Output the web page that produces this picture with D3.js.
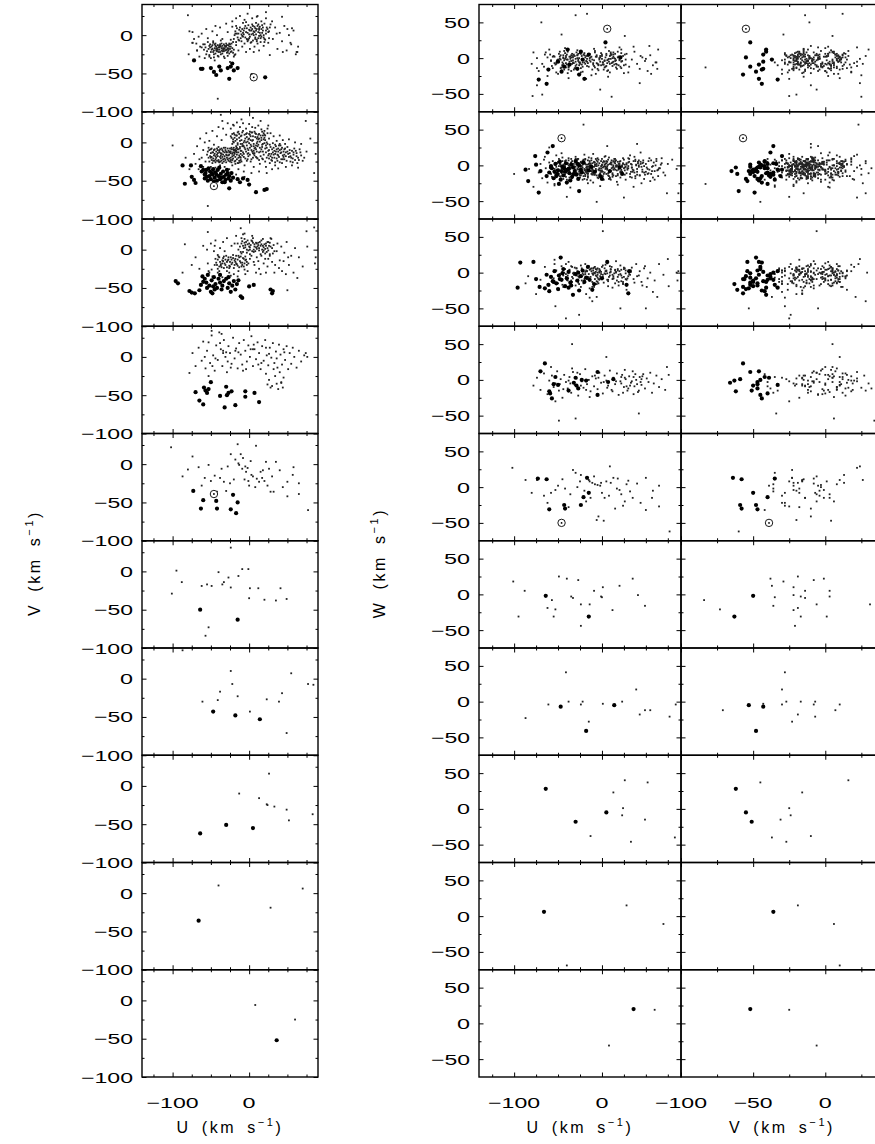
<!DOCTYPE html>
<html>
<head>
<meta charset="utf-8">
<script src="https://cdn.jsdelivr.net/npm/d3@7"></script>
<style>
body { margin: 0; background: #fff; }
svg { display: block; }
text { font-family: "Liberation Sans", Arial, Helvetica, sans-serif; fill: #000; }
</style>
</head>
<body>
<svg id="chart" width="875" height="1144"></svg>
<script>
// every star is [U, V, W] in km/s, one list per row of panels
const row1Small = [
 [-52,-14,-6],[-48,-18,2],[-45,-12,-10],[-43,-20,-3],[-40,-16,5],[-38,-22,-12],[-36,-11,-1],[-34,-19,-8],[-31,-15,3],[-29,-23,-15],
 [-27,-13,-4],[-25,-18,7],[-23,-21,-9],[-50,-22,-2],[-47,-10,-14],[-44,-24,0],[-41,-13,-7],[-39,-19,9],[-37,-25,-5],[-35,-14,-18],
 [-33,-21,1],[-30,-11,-11],[-28,-17,4],[-26,-24,-6],[-24,-15,-20],[-53,-18,-9],[-49,-15,6],[-46,-20,-13],[-42,-17,-1],[-38,-14,-16],
 [-36,-20,2],[-32,-17,-7],[-29,-13,8],[-27,-20,-2],[-22,-17,-12],[-55,-21,3],[-51,-12,-4],[-46,-25,-17],[-43,-15,10],[-40,-22,-9],
 [-35,-24,4],[-33,-12,-3],[-31,-20,-14],[-28,-22,0],[-25,-12,-8],[-21,-23,5],[-57,-16,-11],[-49,-19,-5],[-44,-11,1],[-39,-16,-21],
 [-34,-17,6],[-30,-19,-1],[-26,-15,-10],[-23,-11,3],[-20,-19,-6],
 [-18,5,-4],[-15,-3,-12],[-12,10,2],[-10,-8,-7],[-8,3,8],[-5,12,-15],[-3,-5,-2],[0,7,5],[2,-10,-9],[4,14,1],
 [6,0,-18],[8,9,-5],[10,-6,4],[12,4,-11],[14,11,0],[16,-2,-8],[18,6,9],[20,-9,-3],[22,2,-14],[24,8,3],
 [-17,-9,-1],[-14,2,6],[-11,-4,-16],[-9,8,-3],[-6,-11,2],[-4,4,-10],[-1,13,7],[1,-2,-6],[3,6,-13],[5,-7,4],
 [7,11,-2],[9,1,-20],[11,-11,-7],[13,7,5],[15,-4,-1],[17,13,-9],[19,0,2],[21,-6,-12],[23,10,-4],[-19,0,-8],
 [-16,9,3],[-13,-7,-5],[-7,6,-22],[-2,-8,1],[3,1,-3],[8,-3,10],[12,14,-6],[17,3,-15],[-20,-5,4],[-10,1,-9],
 [0,-4,-1],[6,5,-7],[10,8,6],[15,-9,-4],[25,4,-10],[-3,9,0],[5,12,-11],[13,-1,2],[20,15,-2],[-8,-2,-13],
 [-72,-5,-18],[-68,-20,-8],[-65,-28,5],[-62,2,-25],[-60,-12,12],[-58,-30,-3],[-56,8,-14],[-54,-4,2],[-50,-30,-22],[-48,5,9],
 [-45,-33,-10],[-42,0,14],[-40,-28,-2],[-38,10,-28],[-35,-5,1],[-32,-30,-16],[-28,4,11],[-25,-35,-6],[-22,18,-19],[-20,-28,7],
 [-17,22,-11],[-14,-20,0],[-12,25,-24],[-9,-15,13],[-6,20,-7],[-4,-22,-17],[-2,28,3],[1,-18,-9],[4,22,15],[7,-15,-26],
 [10,24,-1],[13,-20,8],[16,18,-13],[19,-14,2],[22,22,-5],[25,-10,-21],[28,14,6],[31,-5,-12],[34,10,-2],[37,-18,9],
 [40,3,-8],[43,-8,-15],[46,12,1],[49,-20,-4],[52,0,-18],[55,-12,4],[58,6,-10],[61,-25,-6],[64,-15,12],[-74,-10,0],
 [-66,-2,-12],[-52,-26,-20],[-44,12,4],[-30,15,-14],[-18,-25,-29],[-8,16,10],[6,-22,-3],[20,-5,15],[30,18,-20],[44,-22,3],
 [36,2,16],[27,-26,-9],[50,8,-1],[-64,-15,8],
 [-30,-14,60],[-17,12,62],[-69,-11,50],[-46,-29,33],[26,5,31],[54,-10,17],[62,-22,-6],[43,24,-35],[11,25,-54],[-2,-6,-44],
 [-79,-25,-53],[-68,-20,-51],[-74,-10,-38],[-78,5,8],[-41,-83,-13],[-80,26,-8],[-74,4,-14],[56,9,-22],[63,-22,-15],[22,30,12]
]
const row1Core = [
 [-51,-16,-3],[-47,-22,4],[-44,-14,-8],[-41,-19,1],[-38,-12,-13],[-35,-21,-4],[-32,-14,5],[-29,-19,-9],[-26,-11,0],[-24,-22,-14],
 [-48,-13,-1],[-45,-17,-6],[-42,-21,7],[-39,-14,-2],[-36,-17,-10],[-33,-19,3],[-30,-15,-5],[-27,-18,6],[-43,-18,-16],[-37,-15,2],
 [-16,2,-7],[-13,7,1],[-9,-1,-11],[-6,9,4],[-2,3,-5],[2,10,-16],[5,2,6],[9,6,-8],[12,-4,0],[16,8,-3],
 [19,-3,-10],[22,6,7],[-11,5,-2],[-5,-3,-8],[0,1,3],[4,8,-12],[8,-5,-1],[11,12,5],[14,3,-9],[18,10,1],
 [-14,-6,-3],[-7,1,2],[1,6,-6],[7,4,-17],[13,9,-5],[-18,2,3],[-1,-6,-10],[10,-8,8],[3,-9,-4],[15,0,6],
 [-58,-12,-4],[-56,-25,2],[-54,-9,-7],[-59,-19,5],[-21,-9,-3],[-19,-26,1],[-33,-28,-6],[-41,-27,3],[-47,-8,-2],[-37,-7,-9],
 [-28,-27,4],[-17,-13,-5],[-62,-16,1],[-52,-28,-8],[-24,-6,6],[-22,11,-6],[27,10,-2],[26,-4,5],[-4,17,-9],[9,16,3]
]
const row1Big = [
 [-72,-33,-30],[-63,-44,-36],[-61,-44,-16],[-50,-43,-5],[-46,-48,-19],[-43,-52,-12],[-39,-41,12],[-37,-46,-9],
 [-26,-57,-23],[-28,-43,-15],[-24,-41,9],[-20,-46,-29],[-15,-43,5],[-22,-37,-2],[21,-55,1],[4,-52,22]
]
const row1Sun = [[6,-55,41]]

const row2Small = [
 [-54,-12,-5],[-51,-18,3],[-49,-8,-12],[-47,-24,-1],[-45,-15,6],[-43,-20,-9],[-41,-10,-16],[-39,-26,2],[-37,-14,-6],[-35,-19,9],
 [-33,-7,-3],[-31,-23,-11],[-29,-13,4],[-27,-17,-18],[-25,-25,0],[-23,-9,-7],[-21,-21,5],[-19,-15,-13],[-17,-11,-2],[-15,-27,-8],
 [-53,-20,1],[-50,-14,-14],[-48,-27,7],[-46,-10,-4],[-44,-22,-19],[-42,-16,3],[-40,-6,-10],[-38,-19,10],[-36,-24,-5],[-34,-12,-15],
 [-32,-18,2],[-30,-26,-7],[-28,-8,8],[-26,-21,-12],[-24,-14,-1],[-22,-18,-20],[-20,-7,4],[-18,-24,-9],[-16,-16,1],[-14,-20,-4],
 [-55,-16,-8],[-52,-25,-2],[-49,-19,9],[-46,-17,-11],[-43,-12,0],[-40,-23,-6],[-38,-9,-21],[-35,-27,4],[-32,-13,-9],[-29,-20,6],
 [-27,-11,-3],[-24,-23,-14],[-21,-13,2],[-18,-19,-6],[-15,-9,11],[-13,-24,-1],[-11,-15,-10],[-50,-9,5],[-47,-21,-16],[-44,-26,-3],
 [-41,-18,7],[-39,-13,-8],[-36,-8,1],[-33,-25,-13],[-30,-16,-2],[-28,-22,9],[-25,-12,-17],[-23,-26,3],[-20,-17,-5],[-17,-8,-11],
 [-12,-19,0],[-10,-11,-7],[-53,-7,-13],[-48,-13,2],[-45,-24,-7],[-42,-8,6],[-37,-21,-2],[-34,-16,-18],[-31,-10,5],[-26,-16,-9],
 [-22,-23,1],[-19,-10,-15],[-16,-22,7],[-14,-13,-3],[-12,-26,-12],
 [-24,8,-6],[-22,-2,3],[-20,12,-11],[-18,-10,1],[-16,4,-17],[-14,14,6],[-12,-6,-3],[-10,9,-9],[-8,-13,4],[-6,2,-14],
 [-4,11,0],[-2,-8,-7],[0,5,9],[2,-3,-20],[4,13,-2],[6,-11,5],[8,7,-10],[10,-1,2],[12,10,-16],[14,-7,-4],
 [16,3,7],[18,-12,-12],[20,6,0],[22,-4,-6],[24,12,3],[-23,-7,-1],[-21,4,-15],[-19,-13,8],[-17,9,-5],[-15,-3,2],
 [-13,6,-21],[-11,-11,-2],[-9,13,5],[-7,0,-8],[-5,-9,10],[-3,7,-13],[-1,-14,-1],[1,10,4],[3,-5,-10],[5,3,-3],
 [7,14,8],[9,-9,-17],[11,1,1],[13,-13,-6],[15,9,3],[17,-3,-23],[19,12,-1],[21,-8,6],[23,0,-9],[25,-11,-4],
 [-24,-12,4],[-20,0,-7],[-16,-7,-12],[-12,2,7],[-8,-4,-1],[-4,-12,-18],[0,-1,1],[4,2,-5],[8,-7,11],[12,4,-11],
 [16,-9,-2],[20,-1,5],[-22,11,-3],[-18,2,-9],[-14,-9,0],[-10,3,-24],[-6,10,2],[-2,1,-11],[2,8,6],[6,-2,-4],
 [10,-12,-8],[14,1,4],[18,9,-14],[22,-13,-1],[-19,6,9],[-11,-2,-6],[-3,-4,3],[5,-14,-12],[13,5,0],[21,3,-17],
 [-7,-15,-5],[1,14,-9],[9,11,2],[-15,13,-2],[17,14,-7],[3,-10,12],[-9,-5,-13],[11,-5,7],[-1,4,-4],[7,-14,1],
 [26,-10,-3],[28,-18,-11],[30,-24,4],[32,-7,-16],[34,-15,1],[36,-21,-7],[38,-12,8],[40,-26,-13],[42,-9,-2],[44,-17,5],
 [46,-22,-9],[48,-13,-19],[50,-6,2],[52,-19,-5],[54,-25,10],[56,-11,-12],[58,-16,-1],[60,-23,-8],[62,-14,6],[64,-20,-15],
 [66,-9,-4],[68,-17,3],[70,-24,-10],[27,-27,-20],[31,-13,9],[35,-5,-6],[39,-19,0],[43,-27,-14],[47,-8,7],[51,-15,-3],
 [55,-20,-22],[59,-8,4],[63,-27,-7],[67,-13,1],[45,-12,-25],[37,-16,12],[53,-10,-11],[57,-26,-2],[33,-20,-9],[41,-4,3],
 [-72,-15,-10],[-70,-28,2],[-68,-5,-18],[-66,-35,8],[-64,5,-4],[-62,-20,-24],[-60,-32,4],[-58,0,-12],[-56,12,6],[-54,-35,-28],
 [-52,2,14],[-50,-32,-6],[-48,15,-15],[-46,-3,17],[-44,-33,-9],[-42,8,-1],[-40,20,-20],[-38,-30,7],[-36,3,-31],[-34,18,1],
 [-32,-32,-14],[-30,10,12],[-28,25,-5],[-26,-35,-18],[-24,18,5],[-22,-30,-10],[-20,22,15],[-18,-28,-3],[-16,26,-25],[-14,-35,3],
 [-12,20,-8],[-10,-25,16],[-8,25,-13],[-6,-30,-1],[-4,18,8],[-2,-22,-29],[0,24,0],[2,-25,-12],[4,20,13],[6,-32,-6],
 [8,19,-19],[10,-20,4],[12,22,-3],[14,-28,9],[16,17,-15],[18,-22,-27],[20,15,2],[22,-32,-8],[24,18,10],[26,5,-13],
 [28,12,1],[30,-35,-4],[32,8,14],[34,-30,-17],[36,2,-30],[38,-34,6],[40,9,-9],[44,3,18],[48,-32,-1],[52,4,-12],
 [56,-30,7],[60,0,-20],[64,-33,-6],[68,-2,10],[72,-20,-14],[75,-12,2],[-65,-22,12],[-57,-25,-16],[-47,-38,1],[-37,-40,-11],
 [-27,-40,9],[-17,-42,-20],[-7,-38,-7],[3,-40,5],[13,-38,-14],[23,-40,-2],[-35,28,3],[-10,30,-11],[15,28,6],[5,32,-4],
 [-100,-4,-12],[87,-15,-39],[85,-40,-5],[-54,-83,-26],[-37,36,-9],[-21,23,57],[6,-5,27],[-6,-45,-51],[74,28,-39],[-83,-20,-5],
 [80,5,8],[-40,-25,-44],[25,22,-45],[-60,-10,25],[40,-10,30],[-78,-35,-30]
]
const row2Core = [
 [-52,-10,-6],[-50,-20,4],[-47,-13,-9],[-44,-18,1],[-42,-24,-13],[-39,-11,3],[-37,-17,-17],[-34,-22,6],[-31,-7,-5],[-29,-17,-10],
 [-26,-13,3],[-24,-20,-4],[-21,-9,8],[-19,-25,-7],[-16,-13,-15],[-13,-17,2],[-11,-23,-5],[-49,-23,-1],[-45,-9,11],[-41,-14,-5],
 [-38,-25,0],[-35,-10,-12],[-32,-21,-1],[-30,-12,9],[-27,-24,-6],[-25,-8,-14],[-22,-15,6],[-18,-12,-8],[-14,-27,3],[-36,-15,-3],
 [-23,6,-8],[-19,10,2],[-15,-1,-6],[-11,8,-13],[-7,-5,1],[-3,12,-4],[1,-7,-15],[5,8,3],[9,-4,-7],[13,11,6],
 [17,-6,-1],[21,9,-10],[24,-2,2],[-21,1,7],[-17,-5,-2],[-13,11,-8],[-9,-2,4],[-5,5,-17],[-1,-10,6],[3,13,-1],
 [7,-8,-11],[11,7,-4],[15,-12,9],[19,4,-6],[23,-7,0],[-20,-10,-19],[-12,-8,10],[-4,0,-6],[4,-12,2],[12,-3,-13],
 [20,10,-3],[-6,-7,7],[2,3,-2],[10,5,-20],[18,-2,5],[-16,9,-11],[-8,15,1],[0,11,-7],[8,12,-15],[16,6,0],
 [29,-15,-6],[33,-11,2],[37,-24,-10],[41,-14,5],[45,-19,-2],[49,-24,-13],[53,-14,6],[57,-21,-8],[61,-11,0],[65,-23,-4],
 [30,-20,-1],[38,-8,-15],[46,-16,3],[54,-18,-6],[62,-18,9],[34,-26,-3],[42,-22,7],[50,-12,-9],[58,-13,-17],[26,-15,1],
 [27,-3,-2],[31,-1,5],[35,-12,-9],[39,-4,1],[43,-7,-14],[47,-2,4],[26,-21,-7],[30,-9,10],[34,-3,-3],[38,-17,-18],
 [42,-13,0],[46,-9,-6],[28,-6,3],[32,-16,-12],[36,-9,6],[40,-2,-5],[44,-22,2],[48,-18,-10],[25,-17,8],[29,-23,-4],
 [-9,-17,-2],[-5,-21,5],[-1,-18,-9],[3,-22,1],[7,-17,-14],[11,-21,4],[15,-18,-6],[19,-16,2],[23,-20,-11],[-7,-19,9],
 [1,-16,-3],[9,-19,-18],[17,-21,0],[-3,-24,-7],[5,-20,6],[13,-23,-2],[21,-25,-9],[-11,-20,3],[-2,-15,-12],[6,-15,-1]
]
const row2Big = [
 [-87,-30,-6],[-76,-30,13],[-84,-54,-22],[-72,-49,-38],[-70,-53,-8],[-63,-31,-15],[-56,-36,27],[-62,-38,18],[-75,-45,1],[-58,-42,-1],
 [-60,-36,-10],[-57,-40,-4],[-55,-45,-18],[-53,-34,2],[-51,-38,-12],[-50,-48,-7],[-48,-42,5],[-47,-35,-20],[-45,-46,-2],[-44,-39,-14],
 [-42,-50,-9],[-41,-36,3],[-40,-44,-24],[-38,-48,-5],[-37,-41,-11],[-35,-52,1],[-34,-38,-16],[-33,-45,-3],[-31,-49,-8],[-30,-42,6],
 [-29,-36,-13],[-27,-47,-19],[-26,-44,0],[-24,-50,-6],[-23,-40,-10],[-21,-46,4],[-52,-44,-15],[-46,-51,-8],[-39,-33,-6],[-36,-46,-21],
 [-32,-52,-12],[-28,-40,2],[-43,-42,-4],[-49,-40,-26],[-54,-50,-9],[-58,-47,-3],
 [-26,-60,-36],[-2,-49,-15],[-8,-47,-9],[9,-65,-8],[20,-62,-3],[23,-61,-12],[0,-55,-19],[-15,-48,-7],[-12,-52,-2]
]
const row2Sun = [[-46,-57,38]]

const row3Small = [
 [-10,8,-3],[-7,2,5],[-4,10,-9],[-1,-1,1],[2,6,-14],[5,9,3],[8,-2,-6],[11,4,8],[14,10,-1],[17,0,-11],
 [20,7,2],[23,-3,-7],[26,5,6],[-8,-3,-16],[-5,6,0],[-2,12,-5],[1,3,10],[4,-2,-2],[7,7,-12],[10,1,4],
 [13,-1,-8],[16,12,0],[19,3,-18],[22,8,-4],[25,-1,7],[28,4,-10],[-12,4,2],[0,8,-7],[6,0,13],[12,6,-3],
 [18,-3,5],[24,10,-13],[3,12,-1],[9,9,9],[15,5,-15],[21,1,-2],[-3,0,-10],[27,9,3],[-9,11,-20],[30,2,-5],
 [-44,-12,-4],[-42,-20,5],[-40,-9,-10],[-38,-16,1],[-36,-23,-14],[-34,-11,8],[-32,-18,-3],[-30,-8,-18],[-28,-14,2],[-26,-21,-7],
 [-24,-10,10],[-22,-17,-1],[-20,-24,-12],[-18,-12,3],[-16,-19,-6],[-14,-8,-22],[-12,-15,6],[-10,-22,-2],[-8,-11,-9],[-6,-18,4],
 [-4,-13,-15],[-43,-17,0],[-39,-22,-8],[-35,-14,-19],[-31,-20,7],[-27,-10,-5],[-23,-13,-11],[-19,-20,1],[-15,-13,9],[-11,-9,-13],
 [-7,-22,-4],[-41,-7,12],[-33,-24,-1],[-25,-16,-25],[-17,-8,-9],[-9,-17,0],[-37,-19,4],[-29,-23,-12],[-21,-7,-3],[-13,-23,5],
 [-5,-9,-7],[-45,-20,-17],[-3,-20,2],[-34,-15,-6],[-18,-16,-30],
 [-55,0,-8],[-52,-30,3],[-50,8,-15],[-48,-35,-2],[-46,-2,9],[-44,12,-20],[-41,-30,-6],[-38,2,15],[-35,-36,-11],[-32,-2,0],
 [-29,15,-4],[-26,-30,-16],[-23,5,6],[-20,-32,-9],[-17,18,2],[-14,-28,-35],[-11,-3,-1],[-8,20,8],[-5,-32,-13],[-2,-28,3],
 [1,-12,-6],[4,18,11],[7,-20,-19],[10,-10,1],[13,-25,-8],[16,-8,16],[19,-18,-3],[22,-30,-12],[25,-12,5],[28,15,-24],
 [31,-5,-2],[34,-20,7],[37,8,-14],[40,-14,-5],[43,-28,2],[46,-4,-18],[49,10,9],[52,-20,-8],[55,-8,0],[58,-30,-27],
 [60,2,-11],[-54,-18,18],[-49,-26,-24],[-45,5,1],[-39,-28,-4],[-34,10,-13],[-29,-28,6],[-24,-34,-20],[-19,8,12],[-15,-35,-7],
 [-10,15,3],[-6,-26,-16],[-1,-18,-2],[3,-8,6],[6,-16,-10],[9,-30,0],[12,-15,-21],[15,-32,4],[18,14,-6],[21,-12,10],
 [24,-22,-15],[27,-8,-1],[30,-16,-29],[33,-30,3],[36,-2,-9],[39,-24,12],[42,4,-4],[45,-15,-13],[48,-32,6],[51,-10,-20],
 [-84,7,-5],[-54,23,12],[-11,28,-40],[87,-10,2],[86,-18,-11],[76,4,-19],[63,-37,-34],[50,-53,-50],[-70,-10,-10],[-65,-25,8],
 [-75,-20,-30],[70,-22,-3],[65,-10,12],[-60,5,-18],[1,-6,58],[-41,-25,-64],[-26,-24,-59],[-53,-28,-47],[21,-5,-50],[75,24,19],
 [85,29,0],[-87,-30,-15],[-6,21,-34]
]
const row3Core = [
 [-8,5,-1],[-5,3,6],[-2,7,-8],[1,0,-3],[4,11,2],[7,4,-10],[10,8,5],[13,2,-5],[16,7,1],[19,-1,-13],
 [22,5,4],[25,10,-6],[-6,9,-12],[0,4,8],[6,-3,-1],[12,9,-9],[18,5,3],[24,2,-16],[-3,-4,0],[9,3,-4],
 [-41,-13,-2],[-37,-21,3],[-33,-9,-8],[-29,-16,6],[-25,-22,-4],[-21,-11,-15],[-17,-18,2],[-13,-10,-6],[-9,-20,7],[-5,-14,-3],
 [-39,-10,-11],[-31,-13,-1],[-23,-19,4],[-15,-21,-10],[-7,-12,1],[-35,-18,9],[-27,-13,-14],[-19,-14,-2],[-11,-17,-20],[-3,-16,5],
 [-15,8,-2],[-14,0,4],[32,6,-3],[33,-2,1],[29,14,-8],[5,15,2],[-6,14,-5],[15,-6,3],[27,-6,-9],[-10,-5,6]
]
const row3Big = [
 [-96,-41,-21],[-93,-44,14],[-78,-54,15],[-75,-56,-9],[-71,-57,-20],[-65,-53,-22],[-61,-35,-17],[-63,-46,-3],[-50,-55,-23],[-47,-48,21],
 [-58,-38,-6],[-56,-43,-12],[-54,-33,2],[-52,-47,-15],[-49,-40,-4],[-46,-36,-10],[-44,-45,5],[-42,-50,-19],[-40,-38,-8],[-38,-43,1],
 [-36,-52,-14],[-33,-41,-31],[-30,-38,-2],[-28,-50,-11],[-26,-44,-25],[-24,-55,-5],[-22,-47,3],[-20,-41,-13],[-18,-52,-7],[-16,-45,8],
 [-11,-61,-24],[-9,-63,-16],[0,-48,-8],[6,-46,15],[28,-52,-17],[30,-57,-29],[31,-54,2],[-35,-47,-18],[-45,-52,-1],[-55,-50,-13],
 [-38,-33,-21],[-27,-36,0],[-14,-40,-10],[-60,-42,-26],[-48,-57,-9]
]

const row4Small = [
 [-78,-21,-8],[-74,5,3],[-70,-12,-14],[-66,12,9],[-62,-5,-20],[-60,20,-1],[-57,-15,6],[-55,8,-10],[-53,19,-5],[-51,-8,12],
 [-49,28,-15],[-47,2,1],[-45,-18,-25],[-43,15,7],[-41,-4,-3],[-39,32,-12],[-37,10,4],[-35,-12,-18],[-33,22,11],[-31,0,-7],
 [-29,-20,2],[-27,14,-22],[-25,5,8],[-23,-9,-2],[-21,25,-11],[-19,-2,15],[-17,11,-6],[-15,-15,0],[-13,18,-16],[-11,3,5],
 [-9,-10,-9],[-7,22,2],[-5,8,-13],[-3,-6,10],[-1,15,-4],[1,0,-19],[3,27,6],[5,-12,-1],[7,10,-8],[9,-3,13],
 [11,19,-14],[13,5,3],[15,-16,-6],[17,14,9],[19,-5,-21],[21,22,-2],[23,2,7],[25,-11,-10],[27,12,1],[29,-1,-15],
 [31,18,5],[33,-8,-4],[35,7,12],[37,-14,-9],[39,16,0],[41,3,-17],[43,-10,4],[45,10,-7],[47,-4,8],[49,14,-12],
 [51,-16,2],[53,5,-3],[55,-9,10],[57,12,-18],[59,0,-5],[62,-14,6],[65,8,-10],[68,-6,1],[72,2,-14],[76,0,7],
 [-44,-2,-13],[-34,8,16],[-24,-14,-8],[-14,6,-24],[-4,-16,3],[6,16,-11],[16,-8,-2],[26,4,14],[36,-2,-20],[46,6,5],
 [-58,0,18],[-48,-12,-6],[-38,18,-1],[-28,-6,10],[-18,8,-14],[-8,-18,6],[2,10,-3],[12,-10,-16],[22,12,4],[32,-16,-8],
 [22,-22,-5],[26,-30,3],[30,-38,-12],[34,-25,-2],[38,-42,8],[42,-33,-15],[45,-27,1],[28,-40,-9],[36,-35,4],[40,-20,-6],
 [24,-36,-18],[44,-40,-3],
 [-34,5,50],[-49,34,-57],[-30,6,-54],[42,-34,-47],[74,5,18],[5,10,32],[-36,30,-5],[-53,-25,-30]
]
const row4Big = [
 [-65,-57,23],[-70,-46,12],[-5,-52,11],[-53,-42,4],[-30,-39,3],[-23,-45,0],[-18,-63,-1],[13,-59,1],[7,-47,-3],[-55,-47,-6],
 [-50,-33,-7],[-29,-50,-8],[-38,-51,-15],[-60,-62,-16],[-59,-40,-19],[-57,-44,-26],[-27,-47,-12],[-32,-66,-4],[-5,-45,-21]
]

const row5Small = [
 [-102,22,27],[-74,10,10],[-80,-7,-8],[-87,-16,10],[-53,-1,-4],[-58,-18,-8],[-50,-22,2],[-42,-36,-2],[-33,-23,24],[-24,13,17],
 [-15,26,10],[-11,13,6],[-14,1,8],[-13,-1,-15],[-9,-6,15],[-4,-10,-41],[-6,-20,-46],[-1,-22,6],[2,4,-47],[9,24,29],
 [3,-14,-15],[10,-19,6],[13,-23,13],[17,-18,-2],[20,-22,-4],[22,3,-10],[26,-6,-20],[35,3,-15],[28,-36,4],[32,-36,-6],
 [50,-23,13],[50,-42,-32],[65,-25,-27],[65,-39,2],[57,-14,-15],[77,-60,-62],[-28,-3,0],[-20,-20,-5],[-36,-6,-10],[-5,-3,3],
 [5,-16,8],[-18,6,-20],[0,-28,-8],[15,-10,-30],[40,-8,5],[44,-30,-22],[-45,-15,11],[-66,-4,-12],[-30,-35,20],[8,-30,-12],
 [-2,-5,2],[18,-8,12],[24,-28,-26],[58,-4,-5],[-25,-25,8],[-8,8,4],[-38,-18,-28],[30,-16,9],[-62,-28,-22]
]
const row5Big = [
 [-73,-35,12],[-60,-47,-31],[-63,-58,11],[-43,-48,-25],[-42,-58,-30],[-24,-59,-25],[-17,-64,13],[-21,-40,-14],[-15,-50,-8]
]
const row5Sun = [[-46,-39,-50]]

const row6Small = [
 [-24,31,-14],[-57,-84,-8],[-53,-73,-21],[-95,1,-31],[-101,-29,18],[-88,-14,5],[-62,-19,-19],[-55,-17,-31],[-49,-19,25],[-40,-1,22],
 [-35,-17,-3],[-33,-14,-5],[-27,-8,20],[-24,-21,-44],[-14,-6,-14],[-9,3,5],[-1,3,-3],[1,-22,10],[12,-22,-22],[0,-35,-4],
 [20,-37,12],[35,-38,22],[41,-22,-1],[49,-36,-16]
]
const row6Big = [[-64,-50,-2],[-15,-63,-31]]

const row7Small = [
 [-87,37,-23],[-24,10,-4],[-22,-7,0],[-38,-17,0],[-61,-30,-4],[-41,-28,41],[-15,-23,-28],[1,-43,-3],[23,-27,0],[39,-30,17],
 [43,-19,-18],[55,7,-12],[49,-71,-12],[77,-7,-21],[84,-8,-4]
]
const row7Big = [[-47,-43,-7],[-18,-48,-41],[14,-53,-5]]

const row8Small = [
 [26,16,40],[-13,-10,-38],[13,-16,23],[24,-25,1],[23,-24,-9],[33,-27,-46],[49,-31,-15],[52,-45,37],[83,-37,-40]
]
const row8Big = [[-64,-62,28],[-30,-51,-18],[5,-55,-5]]

const row9Small = [[-40,10,-69],[28,-19,15],[70,6,-11]]
const row9Big = [[-66,-36,6]]

const row10Small = [[8,-6,-31],[60,-25,19]]
const row10Big = [[36,-52,20]]

const rows = [
    { small: row1Small.concat(row1Core), big: row1Big, sun: row1Sun },
    { small: row2Small.concat(row2Core), big: row2Big, sun: row2Sun },
    { small: row3Small.concat(row3Core), big: row3Big, sun: [] },
    { small: row4Small, big: row4Big, sun: [] },
    { small: row5Small, big: row5Big, sun: row5Sun },
    { small: row6Small, big: row6Big, sun: [] },
    { small: row7Small, big: row7Big, sun: [] },
    { small: row8Small, big: row8Big, sun: [] },
    { small: row9Small, big: row9Big, sun: [] },
    { small: row10Small, big: row10Big, sun: [] },
]

// axis ticks, labels and titles
const uMajor = [-100, 0], uMinor = [-125, -75, -50, -25, 25, 50, 75]
const vMajor = [-100, -50, 0], vMinor = [-75, -25, 25]
const wMajor = [-50, 0, 50], wMinor = [-25, 25]
const vAxisLabels = [0, -50, -100]
const wAxisLabels = [50, 0, -50]

/**
 * Panel geometry: one column per velocity pair.
 */
const top0 = 4.5
const rowH = 107.25
const panels = [
    { xi: 0, yi: 1, x0: 142, x1: 318, xDom: [-140, 90], yDom: [-100, 40],
      xMajor: uMajor, xMinor: uMinor, yMajor: vMajor, yMinor: vMinor, yLabels: vAxisLabels, xLabels: uMajor, title: "U" },
    { xi: 0, yi: 2, x0: 479, x1: 681, xDom: [-140, 90], yDom: [-75, 75],
      xMajor: uMajor, xMinor: uMinor, yMajor: wMajor, yMinor: wMinor, yLabels: wAxisLabels, xLabels: uMajor, title: "U" },
    { xi: 1, yi: 2, x0: 681, x1: 883, xDom: [-100, 40], yDom: [-75, 75],
      xMajor: vMajor, xMinor: vMinor, yMajor: wMajor, yMinor: wMinor, yLabels: null, xLabels: vMajor, title: "V" },
]

const svg = d3.select("#chart")
const fmt = d => (d < 0 ? "\u2212" + Math.abs(d) : "" + d)
const labelWidth = d => 13 * fmt(d).length

function drawTicks(g, axisFn, scale, values, size, pos) {
    g.append("g")
        .attr("transform", pos)
        .call(axisFn(scale).tickValues(values).tickSizeInner(-size).tickSizeOuter(0).tickFormat(""))
        .call(a => a.select(".domain").remove())
        .selectAll("line").attr("stroke", "#000").attr("stroke-width", 1)
}

rows.forEach((row, i) => {
    const y0 = top0 + i * rowH
    const y1 = y0 + rowH

    panels.forEach((p, j) => {
        const x = d3.scaleLinear().domain(p.xDom).range([p.x0, p.x1])
        const y = d3.scaleLinear().domain(p.yDom).range([y1, y0])

        const clipId = `clip_${i}_${j}`
        svg.append("clipPath").attr("id", clipId)
            .append("rect")
            .attr("x", p.x0).attr("y", y0)
            .attr("width", p.x1 - p.x0).attr("height", rowH)

        const g = svg.append("g").attr("clip-path", `url(#${clipId})`)

        /**
         * Small dots: field stars
         */
        g.selectAll(".small_dot")
            .data(row.small)
            .join("rect")
            .attr("class", "small_dot")
            .attr("x", d => x(d[p.xi]) - 0.9)
            .attr("y", d => y(d[p.yi]) - 0.9)
            .attr("width", 1.8)
            .attr("height", 1.8)
            .attr("fill", "#222")

        /**
         * Big dots: the selected stars
         */
        g.selectAll(".big_dot")
            .data(row.big)
            .join("circle")
            .attr("class", "big_dot")
            .attr("cx", d => x(d[p.xi]))
            .attr("cy", d => y(d[p.yi]))
            .attr("r", 2.1)
            .attr("fill", "#000")

        /**
         * Sun-symbol stars
         */
        const sun = g.selectAll(".sun")
            .data(row.sun)
            .join("g")
            .attr("class", "sun")
            .attr("transform", d => `translate(${x(d[p.xi])},${y(d[p.yi])})`)
        sun.append("circle").attr("r", 3.7).attr("fill", "#fff").attr("stroke", "#000").attr("stroke-width", 0.9)
        sun.append("circle").attr("r", 0.9).attr("fill", "#000")

        /**
         * Ticks on all four sides, pointing inward
         */
        const ax = svg.append("g")
        drawTicks(ax, d3.axisBottom, x, p.xMajor, 4.5, `translate(0,${y1})`)
        drawTicks(ax, d3.axisBottom, x, p.xMinor, 2.5, `translate(0,${y1})`)
        drawTicks(ax, d3.axisTop, x, p.xMajor, 4.5, `translate(0,${y0})`)
        drawTicks(ax, d3.axisTop, x, p.xMinor, 2.5, `translate(0,${y0})`)
        drawTicks(ax, d3.axisLeft, y, p.yMajor, 4.5, `translate(${p.x0},0)`)
        drawTicks(ax, d3.axisLeft, y, p.yMinor, 2.5, `translate(${p.x0},0)`)
        drawTicks(ax, d3.axisRight, y, p.yMajor, 4.5, `translate(${p.x1},0)`)
        drawTicks(ax, d3.axisRight, y, p.yMinor, 2.5, `translate(${p.x1},0)`)

        svg.append("rect")
            .attr("x", p.x0).attr("y", y0)
            .attr("width", p.x1 - p.x0).attr("height", rowH)
            .attr("fill", "none")
            .attr("stroke", "#000")
            .attr("stroke-width", 1.4)

        /**
         * Y tick labels
         */
        if (p.yLabels) {
            svg.selectAll(null)
                .data(p.yLabels)
                .join("text")
                .attr("x", p.x0 - 9)
                .attr("y", d => y(d) + 5.5)
                .attr("text-anchor", "end")
                .attr("font-size", 15)
                .attr("textLength", labelWidth)
                .attr("lengthAdjust", "spacingAndGlyphs")
                .text(fmt)
        }

        /**
         * X tick labels and title under the last row
         */
        if (i === rows.length - 1) {
            svg.selectAll(null)
                .data(p.xLabels)
                .join("text")
                .attr("x", d => x(d))
                .attr("y", y1 + 31)
                .attr("text-anchor", "middle")
                .attr("font-size", 15)
                .attr("textLength", labelWidth)
                .attr("lengthAdjust", "spacingAndGlyphs")
                .text(fmt)

            axisTitle(`translate(${(p.x0 + p.x1) / 2},${y1 + 56})`, p.title)
        }
    })
})

function axisTitle(transform, letter) {
    const t = svg.append("text")
        .attr("transform", transform)
        .attr("text-anchor", "middle")
        .attr("font-size", 16)
        .attr("letter-spacing", 2.6)
        .attr("word-spacing", 4)
    t.append("tspan").text(letter + " (km s")
    t.append("tspan").attr("font-size", 11).attr("dy", -7).text("\u22121")
    t.append("tspan").attr("dy", 7).text(")")
}

axisTitle("translate(40,563) rotate(-90)", "V")
axisTitle("translate(385,563) rotate(-90)", "W")
</script>
</body>
</html>
